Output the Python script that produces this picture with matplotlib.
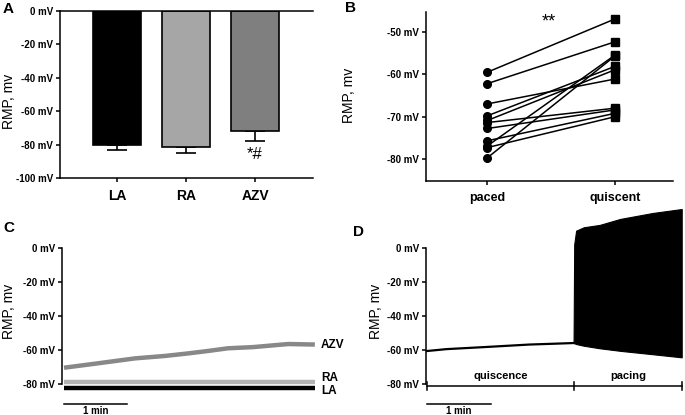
import matplotlib
matplotlib.use("Agg")
import matplotlib.pyplot as plt
import numpy as np

plt.rcParams['font.family'] = ['Liberation Sans', 'DejaVu Sans']

# Dati pannello A
gruppi = ["LA", "RA", "AZV"]
rmp_medio = [-80.2, -81.3, -71.7]
rmp_err = [3.2, 3.7, 6.2]
colori_barre = ["#000000", "#a6a6a6", "#7f7f7f"]

# Dati pannello B (coppie paced -> quiscent)
condizioni = ["paced", "quiscent"]
rmp_paced = [-59.5, -62.2, -67.0, -69.8, -70.9, -71.4, -72.8, -75.7, -76.9, -77.3, -79.7]
rmp_quisc = [-46.9, -52.3, -61.1, -58.1, -58.9, -68.0, -68.4, -69.2, -55.4, -70.0, -55.6]

# Dati pannello C (tracce, minuti / mV)
t_azv = [0.0, 0.5, 1.13, 1.6, 1.97, 2.3, 2.6, 3.0, 3.56, 3.98]
v_azv = [-70.4, -68.0, -64.9, -63.5, -62.0, -60.5, -59.0, -58.3, -56.5, -56.8]
t_ra = [0.0, 3.98]
v_ra = [-78.6, -78.6]
t_la = [0.0, 3.98]
v_la = [-82.3, -82.3]

# Dati pannello D
t_quiesc = [0.0, 0.3, 0.94, 1.6, 2.0, 2.30]
v_quiesc = [-60.6, -59.5, -58.2, -56.8, -56.3, -55.9]
t_pacing = [2.29, 2.30, 2.33, 2.45, 2.70, 3.02, 3.53, 3.98]
v_pacing_max = [-56.0, 2.0, 10.0, 12.0, 13.4, 16.9, 20.4, 22.7]
v_pacing_min = [-56.0, -56.0, -56.5, -57.5, -59.0, -60.5, -62.5, -64.3]
confini = [0.0, 2.30, 3.98]

W, H = 685, 415
fig = plt.figure(figsize=(W / 100, H / 100), dpi=100)


def assi(l, r, t, b):
    return fig.add_axes([l / W, 1 - b / H, (r - l) / W, (b - t) / H])


tick_font = dict(fontsize=7, fontweight="bold")
mv = lambda vals: [f"{v} mV" for v in vals]

# A) barre
axA = assi(60, 313, 11, 178)
x = np.arange(len(gruppi))
axA.bar(x, rmp_medio, width=0.7, color=colori_barre, edgecolor="black", linewidth=1.2, zorder=2)
axA.errorbar(x, rmp_medio, yerr=[rmp_err, [0] * 3], fmt="none", ecolor="black",
             elinewidth=1.2, capsize=7.5, capthick=1.2, zorder=1)
axA.set_xlim(-0.83, 2.84)
axA.set_ylim(-100, 0)
axA.set_yticks([0, -20, -40, -60, -80, -100])
axA.set_yticklabels(mv([0, -20, -40, -60, -80, -100]), **tick_font)
axA.set_xticks(x)
axA.set_xticklabels(gruppi, fontsize=10, fontweight="bold")
axA.spines["right"].set_visible(False)
axA.text(2, -86, "*#", ha="center", va="center", fontsize=12)

# B) paired
axB = assi(426, 673, 12, 181)
for p, q in zip(rmp_paced, rmp_quisc):
    axB.plot([0, 1], [p, q], color="black", linewidth=1.1)
axB.plot(np.zeros(len(rmp_paced)), rmp_paced, "o", color="black", markersize=5.5)
axB.plot(np.ones(len(rmp_quisc)), rmp_quisc, "s", color="black", markersize=5.5)
axB.set_xlim(-0.48, 1.45)
axB.set_ylim(-85.2, -45.3)
axB.set_yticks([-50, -60, -70, -80])
axB.set_yticklabels(mv([-50, -60, -70, -80]), **tick_font)
axB.set_xticks([0, 1])
axB.set_xticklabels(condizioni, fontsize=9, fontweight="bold")
for s in ["top", "right"]:
    axB.spines[s].set_visible(False)
axB.text(0.48, -45.6, "**", ha="center", va="top", fontsize=13)

for ax in (axA, axB):
    ax.tick_params(length=3, width=1.1, pad=2)
    ax.tick_params(axis="x", pad=5)
    for s in ax.spines.values():
        s.set_linewidth(1.1)

# C) tracce
axC = assi(62, 318, 205, 395)
axC.plot(t_la, v_la, color="black", linewidth=3.2, solid_capstyle="butt")
axC.plot(t_ra, v_ra, color="#b3b3b3", linewidth=3.2, solid_capstyle="butt")
axC.plot(t_azv, v_azv, color="#888888", linewidth=3.2, solid_capstyle="butt")
axC.set_xlim(-0.032, 4.03)
for nome, t, v, dy in [("AZV", t_azv, v_azv, 0), ("RA", t_ra, v_ra, 2.4), ("LA", t_la, v_la, -1.9)]:
    axC.text(t[-1] + 0.1, v[-1] + dy, nome, fontsize=8.5, fontweight="bold",
             va="center", ha="left", clip_on=False)

# D) traccia paced
axD = assi(426, 683, 205, 395)
axD.plot(t_quiesc, v_quiesc, color="black", linewidth=1.6)
axD.fill_between(t_pacing, v_pacing_min, v_pacing_max, color="black", linewidth=0.8, edgecolor="black")
axD.set_xlim(-0.016, 4.0)
axD.plot([confini[0], confini[-1]], [-81, -81], color="black", linewidth=1.1, clip_on=False)
for c in confini:
    axD.plot([c, c], [-78.5, -83.5], color="black", linewidth=1.1, clip_on=False)
axD.text((confini[0] + confini[1]) / 2, -75.5, "quiscence", ha="center", va="center",
         fontsize=8, fontweight="bold")
axD.text((confini[1] + confini[2]) / 2, -75.5, "pacing", ha="center", va="center",
         fontsize=8, fontweight="bold")

for ax in (axC, axD):
    ax.set_ylim(-86.4, 25.06)
    ax.set_yticks([0, -20, -40, -60, -80])
    ax.set_yticklabels(mv([0, -20, -40, -60, -80]), **tick_font)
    ax.spines["left"].set_bounds(-80, 0)
    ax.spines["left"].set_linewidth(1.1)
    for s in ["top", "right", "bottom"]:
        ax.spines[s].set_visible(False)
    ax.set_xticks([])
    ax.tick_params(length=3, width=1.1, pad=2)
    # barra di scala 1 min
    ax.plot([0, 1], [-91.7, -91.7], color="black", linewidth=1.1, clip_on=False)
    ax.text(0.5, -93.0, "1 min", ha="center", va="top", fontsize=7, fontweight="bold", clip_on=False)

# etichette asse y
for px, py in [(9, 101), (349, 95), (9, 311), (376, 311)]:
    fig.text(px / W, 1 - py / H, "RMP, mv", rotation=90, ha="center", va="center", fontsize=10)

# lettere pannelli
for lett, px, py in [("A", 8, 9), ("B", 350, 8), ("C", 9, 228), ("D", 359, 232)]:
    fig.text(px / W, 1 - py / H, lett, fontsize=11, fontweight="bold", ha="center", va="center")

fig.savefig("out.png", dpi=100)
